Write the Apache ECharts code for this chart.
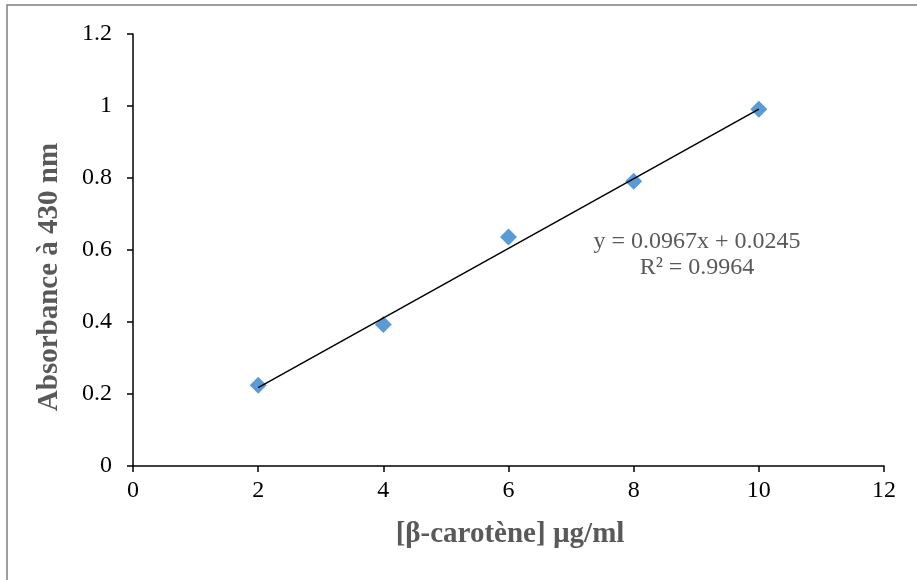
<!DOCTYPE html>
<html>
<head>
<meta charset="utf-8">
<style>
  html, body { margin: 0; padding: 0; background: #fff; }
  #chart { width: 917px; height: 580px; }
</style>
<script src="https://cdn.jsdelivr.net/npm/echarts@6/dist/echarts.min.js"></script>
</head>
<body>
<div id="chart"></div>
<script>
// Calibration points: β-carotene concentration (µg/ml) vs absorbance at 430 nm
const concentrations = [2, 4, 6, 8, 10];
const absorbances = [0.224, 0.393, 0.636, 0.791, 0.991];

// Linear fit reported on the chart
const slope = 0.0967;
const intercept = 0.0245;
const rSquared = 0.9964;
const fitRange = [2, 10];

const xTicks = { min: 0, max: 12, interval: 2 };
const yTicks = { min: 0, max: 1.2, interval: 0.2 };

const serif = '"Liberation Serif", "Times New Roman", serif';
const titleGray = '#595959';

const points = concentrations.map((c, i) => [c, absorbances[i]]);
const fitLine = fitRange.map(x => [x, slope * x + intercept]);

const chart = echarts.init(document.getElementById('chart'), null, { renderer: 'canvas' });

chart.setOption({
  backgroundColor: '#ffffff',
  animation: false,
  grid: { left: 133, right: 33, top: 34, bottom: 114, containLabel: false },
  xAxis: {
    type: 'value',
    min: xTicks.min, max: xTicks.max, interval: xTicks.interval,
    axisLine: { show: true, onZero: false, lineStyle: { color: '#000', width: 1.5 } },
    axisTick: { show: true, inside: false, length: 6, lineStyle: { color: '#000', width: 1.5 } },
    axisLabel: { color: '#000', fontFamily: serif, fontSize: 24, margin: 13 },
    splitLine: { show: false }
  },
  yAxis: {
    type: 'value',
    min: yTicks.min, max: yTicks.max, interval: yTicks.interval,
    axisLine: { show: true, onZero: false, lineStyle: { color: '#000', width: 1.5 } },
    axisTick: { show: true, inside: false, length: 6, lineStyle: { color: '#000', width: 1.5 } },
    axisLabel: {
      color: '#000', fontFamily: serif, fontSize: 24, margin: 21,
      formatter: v => String(Math.round(v * 10) / 10)
    },
    splitLine: { show: false }
  },
  series: [
    {
      name: 'fit',
      type: 'line',
      data: fitLine,
      symbol: 'none',
      lineStyle: { color: '#000', width: 1.5 },
      z: 3
    },
    {
      name: 'absorbance',
      type: 'scatter',
      data: points,
      symbol: 'diamond',
      symbolSize: [17, 17],
      itemStyle: { color: '#5B9BD5', opacity: 1 },
      z: 2
    }
  ],
  graphic: [
    {
      type: 'rect',
      shape: { x: 7, y: 5, width: 920, height: 590 },
      style: { fill: 'none', stroke: '#7f7f7f', lineWidth: 1.5 },
      silent: true, z: -1
    },
    {
      type: 'text',
      x: 50, y: 277, rotation: Math.PI / 2,
      style: {
        text: 'Absorbance à 430 nm',
        font: 'bold 29px ' + serif,
        fill: titleGray,
        align: 'center', verticalAlign: 'middle'
      }
    },
    {
      type: 'text',
      x: 510, y: 535,
      style: {
        text: '[β-carotène] µg/ml',
        font: 'bold 29px ' + serif,
        fill: titleGray,
        align: 'center', verticalAlign: 'middle'
      }
    },
    {
      type: 'text',
      x: 697, y: 242,
      style: {
        text: 'y = ' + slope.toFixed(4) + 'x + ' + intercept.toFixed(4),
        font: '24px ' + serif,
        fill: titleGray,
        align: 'center', verticalAlign: 'middle'
      }
    },
    {
      type: 'text',
      x: 697, y: 268,
      style: {
        text: 'R² = ' + rSquared.toFixed(4),
        font: '24px ' + serif,
        fill: titleGray,
        align: 'center', verticalAlign: 'middle'
      }
    }
  ]
});
</script>
</body>
</html>
